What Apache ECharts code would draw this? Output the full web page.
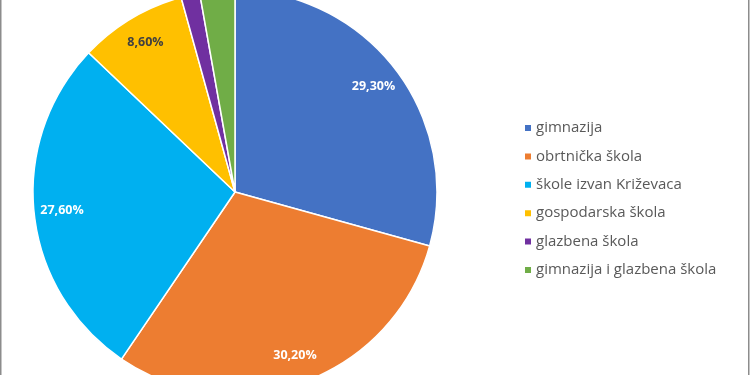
<!DOCTYPE html>
<html>
<head>
<meta charset="utf-8">
<script src="https://cdn.jsdelivr.net/npm/echarts@6/dist/echarts.min.js"></script>
<style>
html,body{margin:0;padding:0;background:#fff;}
#c{width:750px;height:375px;}
</style>
</head>
<body>
<div id="c"></div>
<script>
const categories = ['gimnazija','obrtnička škola','škole izvan Križevaca','gospodarska škola','glazbena škola','gimnazija i glazbena škola'];
const values = [29.3, 30.2, 27.6, 8.6, 1.5, 2.8];
const colors = ['#4472C4','#ED7D31','#00B0F0','#FFC000','#7030A0','#70AD47'];
const labelColors = ['#ffffff','#ffffff','#ffffff','#404040','#ffffff','#ffffff'];
const showLabel = [true,true,true,true,false,false];

const fmt = v => v.toFixed(2).replace('.', ',') + '%';

const chart = echarts.init(document.getElementById('c'));
const center = [235, 192];
chart.setOption({
  animation: false,
  color: colors,
  legend: {
    orient: 'vertical',
    left: 518,
    top: 115,
    itemWidth: 8,
    itemHeight: 8,
    itemGap: 12.4,
    icon: 'rect',
    textStyle: { fontFamily: 'Open Sans', fontSize: 15, lineHeight: 16, color: '#595959', padding: [0,0,0,-1] },
    data: categories
  },
  graphic: [
    { type: 'rect', shape: { x: 0, y: 0, width: 1.5, height: 375 }, style: { fill: '#8c8c8c' } },
    { type: 'rect', shape: { x: 748, y: 0, width: 1.5, height: 375 }, style: { fill: '#8c8c8c' } }
  ],
  series: [
    {
      type: 'pie',
      center: center,
      radius: 202,
      startAngle: 90,
      clockwise: true,
      silent: true,
      itemStyle: { borderColor: '#fff', borderWidth: 1.5 },
      label: { show: false },
      labelLine: { show: false },
      data: categories.map((c, i) => ({ name: c, value: values[i] }))
    },
    {
      type: 'pie',
      center: center,
      radius: [140, 202],
      startAngle: 90,
      clockwise: true,
      silent: true,
      legendHoverLink: false,
      itemStyle: { color: 'rgba(0,0,0,0)' },
      labelLine: { show: false },
      data: categories.map((c, i) => ({
        name: c,
        value: values[i],
        label: {
          show: showLabel[i],
          position: 'inside',
          formatter: fmt(values[i]),
          color: labelColors[i],
          fontFamily: 'Open Sans',
          fontWeight: 'bold',
          fontSize: 12.5
        }
      }))
    }
  ]
});
</script>
</body>
</html>
